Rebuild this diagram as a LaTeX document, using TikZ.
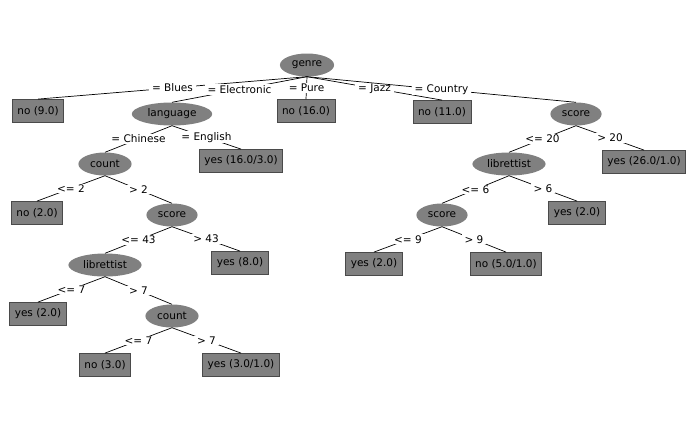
\documentclass[tikz,border=0pt]{standalone}
\usepackage{fontspec}
\setmainfont{DejaVu Sans}
\usetikzlibrary{shapes.geometric}
\definecolor{wekagray}{HTML}{808080}
\definecolor{wekaedge}{HTML}{4A4A4A}

\begin{document}
\begin{tikzpicture}[x=1pt, y=-1pt,
    every node/.style={font=\fontsize{10.5}{12}\selectfont},
    split/.style={ellipse, fill=wekagray, inner xsep=4pt, inner ysep=0pt,
      minimum height=23pt},
    leaf/.style={rectangle, fill=wekagray, draw=wekaedge, line width=0.8pt,
      inner xsep=5pt, minimum height=23pt},
    cond/.style={fill=white, inner xsep=3pt, inner ysep=1pt},
    branch/.style={line width=0.7pt}]
        \useasboundingbox (0,0) rectangle (693,424);
        % Root and first level
        \node[split] (genre) at (307,65) {genre};
        \node[leaf] (blues) at (38,111) {no (9.0)};
        \node[split] (language) at (172,114) {language};
        \node[leaf] (pure) at (306,111) {no (16.0)};
        \node[leaf] (jazz) at (442,112) {no (11.0)};
        \node[split] (scoreR) at (576,114) {score};
        % Second level
        \node[split] (countA) at (105,164) {count};
        \node[leaf] (english) at (241,161) {yes (16.0/3.0)};
        \node[split] (librR) at (509,164) {librettist};
        \node[leaf] (high20) at (644,162) {yes (26.0/1.0)};
        % Third level
        \node[leaf] (low2) at (37,213) {no (2.0)};
        \node[split] (scoreL) at (172,215) {score};
        \node[split] (scoreM) at (442,215) {score};
        \node[leaf] (high6) at (577,213) {yes (2.0)};
        % Fourth level
        \node[split] (librL) at (105,265) {librettist};
        \node[leaf] (high43) at (240,263) {yes (8.0)};
        \node[leaf] (low9) at (374,264) {yes (2.0)};
        \node[leaf] (high9) at (506,264) {no (5.0/1.0)};
        % Fifth and sixth level
        \node[leaf] (low7) at (38,314) {yes (2.0)};
        \node[split] (countB) at (172,316) {count};
        \node[leaf] (low7b) at (105,365) {no (3.0)};
        \node[leaf] (high7b) at (241,365) {yes (3.0/1.0)};
        % Branches with their conditions
        \draw[branch] (genre.south) -- node[cond] {= Blues} (blues.north);
        \draw[branch] (genre.south) -- node[cond] {= Electronic} (language.north);
        \draw[branch] (genre.south) -- node[cond] {= Pure} (pure.north);
        \draw[branch] (genre.south) -- node[cond] {= Jazz} (jazz.north);
        \draw[branch] (genre.south) -- node[cond] {= Country} (scoreR.north);
        \draw[branch] (language.south) -- node[cond] {= Chinese} (countA.north);
        \draw[branch] (language.south) -- node[cond] {= English} (english.north);
        \draw[branch] (scoreR.south) -- node[cond] {<= 20} (librR.north);
        \draw[branch] (scoreR.south) -- node[cond] {> 20} (high20.north);
        \draw[branch] (countA.south) -- node[cond] {<= 2} (low2.north);
        \draw[branch] (countA.south) -- node[cond] {> 2} (scoreL.north);
        \draw[branch] (librR.south) -- node[cond] {<= 6} (scoreM.north);
        \draw[branch] (librR.south) -- node[cond] {> 6} (high6.north);
        \draw[branch] (scoreL.south) -- node[cond] {<= 43} (librL.north);
        \draw[branch] (scoreL.south) -- node[cond] {> 43} (high43.north);
        \draw[branch] (scoreM.south) -- node[cond] {<= 9} (low9.north);
        \draw[branch] (scoreM.south) -- node[cond] {> 9} (high9.north);
        \draw[branch] (librL.south) -- node[cond] {<= 7} (low7.north);
        \draw[branch] (librL.south) -- node[cond] {> 7} (countB.north);
        \draw[branch] (countB.south) -- node[cond] {<= 7} (low7b.north);
        \draw[branch] (countB.south) -- node[cond] {> 7} (high7b.north);
      \end{tikzpicture}
\end{document}
